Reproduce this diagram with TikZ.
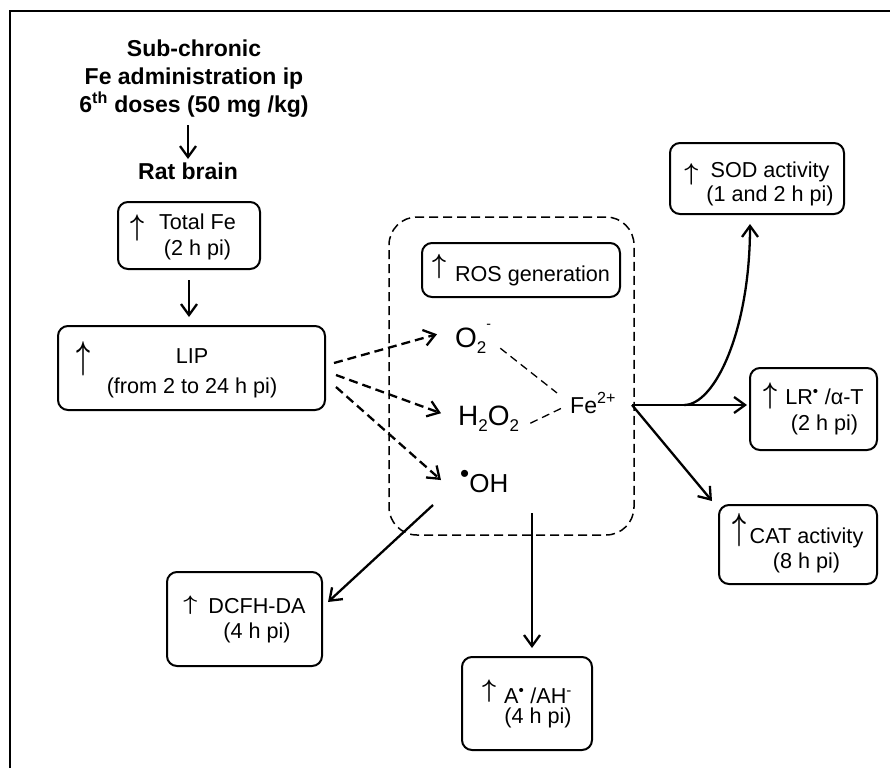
\documentclass[tikz,border=0pt]{standalone}
\usepackage{fontspec}
\setmainfont{Liberation Sans}
\usepackage{graphicx}
\usetikzlibrary{arrows.meta,calc}
\newcommand{\upar}[2]{\raisebox{-#2}{\resizebox*{14pt}{#1}{\raisebox{0.2em}{\boldmath$\uparrow$}}}}
\newcommand{\chemsub}[1]{\raisebox{-6pt}{\fontsize{17}{17}\selectfont #1}}
\begin{document}
\begin{tikzpicture}[x=1pt,y=-1pt,
  box/.style={draw,line width=2pt,rounded corners=10pt,inner sep=0pt,font=\fontsize{21.6}{26}\selectfont},
  heading/.style={font=\fontsize{23}{28}\selectfont\bfseries,align=center},
  chem/.style={anchor=base west,inner sep=2pt},
  rosframe/.style={draw,line width=1.5pt,dash pattern=on 9pt off 5pt,rounded corners=28pt,minimum width=245,minimum height=318},
  arr/.style={line width=2.3pt,-{Straight Barb[length=11pt,width=16pt]}},
  dasharr/.style={arr,dash pattern=on 9pt off 5pt},
  link/.style={line width=1.3pt,dash pattern=on 8pt off 5pt}]
\useasboundingbox (0,0) rectangle (890,768);
\draw[line width=2.4pt] (10,768) -- (10,11) -- (890,11);
\node(dose) at (194,79)[heading]{Sub-chronic\\Fe administration ip\\6\textsuperscript{th} doses (50 mg /kg)};
\node(rat) at (188,171)[heading]{Rat brain};
\node(totfe) at (189,235.5)[box,minimum width=142,minimum height=67]{\rule{0pt}{20.8pt}\upar{27pt}{13pt}\hspace{15pt}\begin{tabular}[t]{@{}c@{}}Total Fe\\(2 h pi)\end{tabular}\hspace{12pt}\mbox{}};
\node(lip) at (191.5,368)[box,minimum width=267,minimum height=84]{\rule{0pt}{27.8pt}\upar{35pt}{14pt}\hspace{16pt}\begin{tabular}[t]{@{}c@{}}LIP\\[4pt](from 2 to 24 h pi)\end{tabular}\hspace{29pt}\mbox{}};
\node(rosarea) at (511.5,376)[rosframe]{};
\node(ros) at (521,270)[box,minimum width=198,minimum height=54]{\upar{25pt}{-2pt}\hspace{9pt}ROS generation};
\node(o2) at (453,347)[chem,font=\fontsize{28}{28}\selectfont]{O\chemsub{2}\smash{\raisebox{19pt}{\fontsize{14}{14}\selectfont -}}};
\node(h2o2) at (456,425)[chem,font=\fontsize{28}{28}\selectfont]{H\chemsub{2}O\chemsub{2}};
\node(oh) at (458,492)[chem,font=\fontsize{26}{26}\selectfont]{\smash{\raisebox{9.5pt}{\fontsize{26}{26}\selectfont •}}OH};
\node(fe) at (568,413)[chem,font=\fontsize{23}{23}\selectfont]{Fe\textsuperscript{2+}};
\node(sod) at (757,178.5)[box,minimum width=174,minimum height=71]{\hspace{4pt}\rule{0pt}{28.8pt}\upar{22pt}{9pt}\hspace{8pt}\begin{tabular}[t]{@{}c@{}}SOD activity\\[-2pt](1 and 2 h pi)\end{tabular}};
\node(lr) at (813.5,409)[box,minimum width=127,minimum height=82]{\rule{0pt}{23.8pt}\upar{27pt}{6pt}\hspace{8pt}\begin{tabular}[t]{@{}c@{}}LR\textsuperscript{•} /α-T\\(2 h pi)\end{tabular}};
\node(cat) at (798,544.5)[box,minimum width=158,minimum height=79]{\upar{34pt}{4pt}\hspace{3pt}\begin{tabular}[t]{@{}c@{}}CAT activity\\[-1pt](8 h pi)\end{tabular}};
\node(dcfh) at (244.5,619)[box,minimum width=155,minimum height=94]{\rule{0pt}{20.8pt}\upar{19pt}{2pt}\hspace{11pt}\begin{tabular}[t]{@{}c@{}}DCFH-DA\\[-1pt](4 h pi)\end{tabular}};
\node(abox) at (527,703.5)[box,minimum width=130,minimum height=93]{\rule{0pt}{26.8pt}\upar{23pt}{0pt}\hspace{8pt}\begin{tabular}[t]{@{}c@{}}A\textsuperscript{•} /AH\textsuperscript{-}\\[-6pt](4 h pi)\end{tabular}};
\coordinate(feout) at (632,405);
\coordinate(fork) at (684,405);
\coordinate(dcout) at (433,505);
\coordinate(aout) at (532,513);
\path[arr] (dose.south -| rat.north) edge[shorten <=4pt] (rat.north);
\path[arr] (totfe.south) edge[shorten <=10pt,shorten >=8pt] (totfe.south |- lip.north);
\path[dasharr]
  ($(lip.east)+(8,-5)$)  edge ($(o2.west)+(-16,-6)$)
  ($(lip.east)+(10,7)$)  edge ($(h2o2.west)+(-15,-5)$)
  ($(lip.east)+(10,19)$) edge ($(oh.west)+(-17,-3)$);
\path[link]
  ($(o2.east)+(7,8)$)   edge ($(fe.west)+(-11,-10)$)
  ($(h2o2.east)+(9,5)$) edge ($(fe.west)+(-6,5)$);
\path[arr]
  (feout) edge[shorten >=2pt] (feout -| lr.west)
  (feout) edge ($(cat.north west)+(-6,-3)$)
  (dcout) edge ($(dcfh.east)+(5,-17)$)
  (aout)  edge[shorten >=8pt] (aout |- abox.north);
\draw[arr] (fork) .. controls (715,405) and (750,330) .. ($(sod.south)+(-7,9)$);
\end{tikzpicture}
\end{document}
